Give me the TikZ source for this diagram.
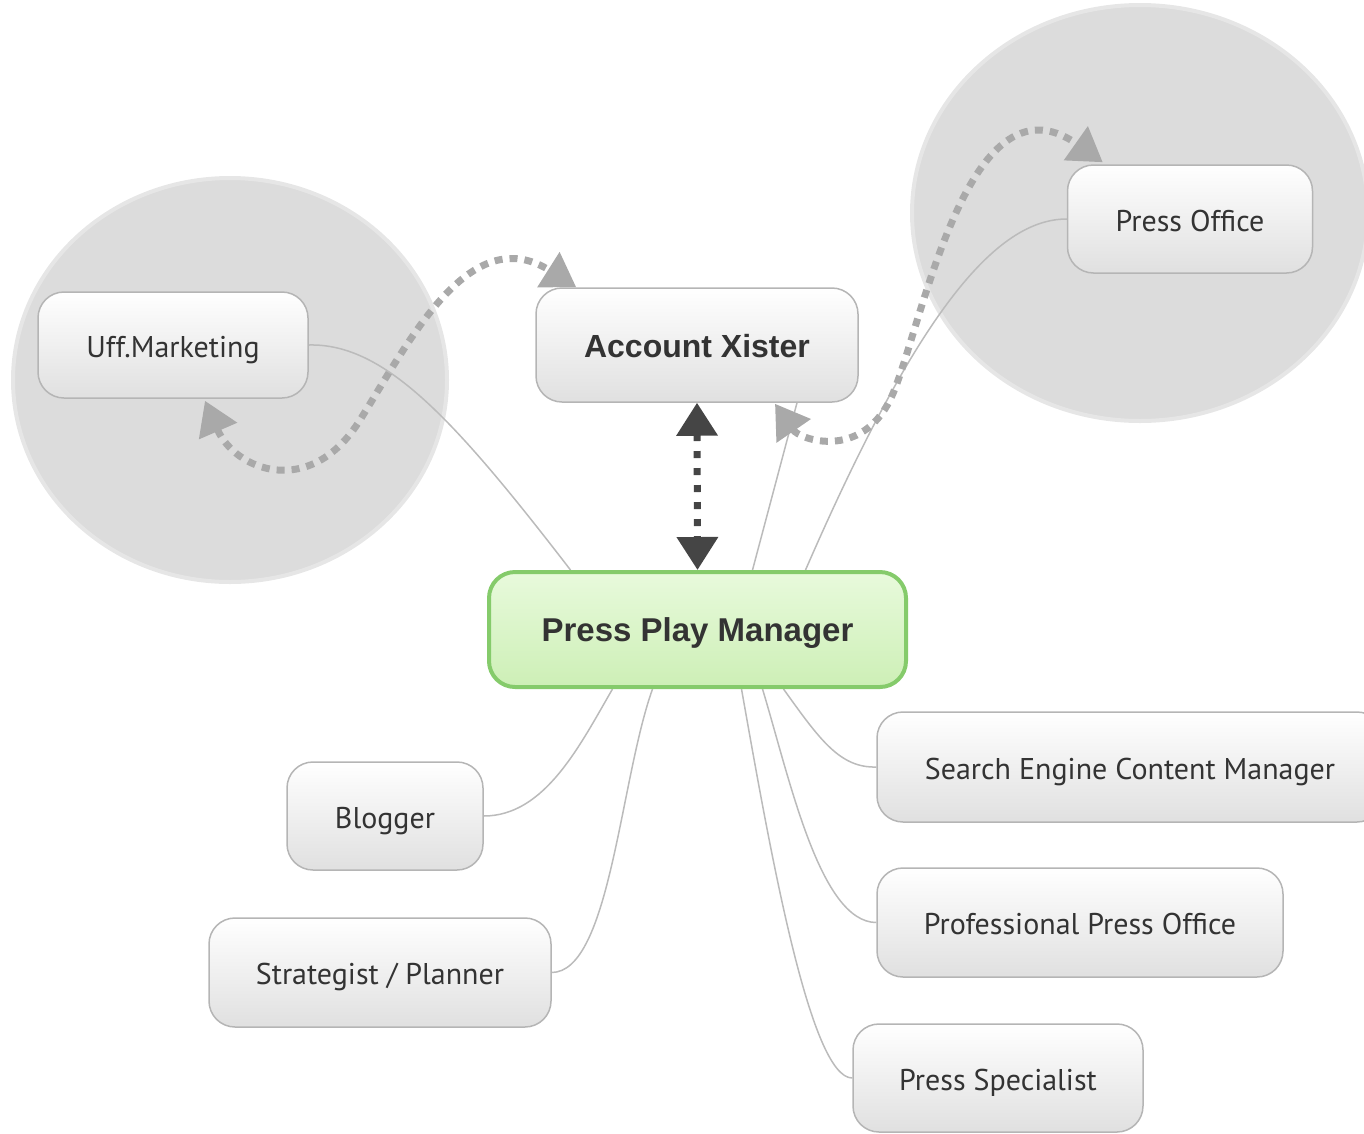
\documentclass[tikz,border=0pt]{standalone}
\usepackage{fontspec}
\setmainfont{PT Sans}
\newfontfamily\arialf{Liberation Sans}
\usetikzlibrary{arrows.meta,calc}
\pgfdeclarelayer{circ}
\pgfdeclarelayer{lines}
\pgfsetlayers{circ,lines,main}
\definecolor{circfill}{HTML}{DCDCDC}
\definecolor{circline}{HTML}{E6E6E6}
\definecolor{boxline}{HTML}{B5B5B5}
\definecolor{boxbot}{HTML}{E0E0E0}
\definecolor{conn}{HTML}{BBBBBB}
\definecolor{txt}{HTML}{333333}
\definecolor{dotg}{HTML}{A9A9A9}
\definecolor{dotd}{HTML}{454545}
\definecolor{gtop}{HTML}{E8FADC}
\definecolor{gbot}{HTML}{CDEFB6}
\definecolor{gline}{HTML}{85CB6B}
\begin{document}
\begin{tikzpicture}[x=1pt,y=-1pt,
  box/.style={rounded corners=26pt, draw=boxline, line width=1.5pt,
    top color=white, bottom color=boxbot, text=txt,
    font=\fontsize{30}{36}\selectfont, inner sep=0pt,
    text height=28pt, text depth=4pt},
  boldbox/.style={box, font=\arialf\bfseries\fontsize{32}{38}\selectfont},
  mainbox/.style={rounded corners=26pt, draw=gline, line width=4pt,
    top color=gtop, bottom color=gbot, text=txt, inner sep=0pt,
    text height=28pt, text depth=4pt,
    font=\arialf\bfseries\fontsize{33}{40}\selectfont},
  conline/.style={draw=conn, line width=1.5pt},
  dotgray/.style={draw=dotg, line width=7pt, dash pattern=on 8pt off 7pt,
    arrows={Triangle[length=33pt,width=40pt]-Triangle[length=33pt,width=40pt]}},
  dotdark/.style={draw=dotd, line width=7pt, dash pattern=on 7pt off 10pt,
    arrows={Triangle[length=33pt,width=40pt]-Triangle[length=33pt,width=40pt]}},
  bubble/.style={fill=circfill, draw=circline, line width=4pt}
]
\useasboundingbox (0,0) rectangle (1364,1133);

% bubbles
\begin{pgfonlayer}{circ}
  \path[bubble] (230,380) ellipse [x radius=217, y radius=202];
  \path[bubble] (1140,213) ellipse [x radius=228, y radius=208];
\end{pgfonlayer}

% nodes
\node[box, minimum width=270pt, minimum height=106pt] (um) at (173,345) {Uff.Marketing};
\node[boldbox, minimum width=322pt, minimum height=114pt] (ax) at (697,345) {Account Xister};
\node[box, minimum width=245pt, minimum height=108pt] (po) at (1190,219) {Press Office};
\node[mainbox, minimum width=417pt, minimum height=115pt] (ppm) at (697.5,629.5) {Press Play Manager};
\node[box, minimum width=196pt, minimum height=108pt] (bl) at (385,816) {Blogger};
\node[box, minimum width=342pt, minimum height=109pt] (sp) at (380,972.5) {Strategist / Planner};
\node[box, minimum width=506pt, minimum height=110pt] (se) at (1130,767) {Search Engine Content Manager};
\node[box, minimum width=406pt, minimum height=109pt] (pp) at (1080,922.5) {Professional Press Office};
\node[box, minimum width=290pt, minimum height=108pt] (ps) at (998,1078) {Press Specialist};

% connectors
\begin{pgfonlayer}{lines}
  \draw[conline] (um.east) .. controls (385,343) and (455,420) .. ($(ppm.north)+(-127,0)$);
  \draw[conline] ($(ppm.north)+(55,0)$) -- ($(ax.south)+(100,0)$);
  \draw[conline] (po.west) .. controls (990,219) and (910,330) .. ($(ppm.north)+(108,0)$);
  \draw[conline] ($(ppm.south)+(-85,0)$) .. controls (580,745) and (545,816) .. (bl.east);
  \draw[conline] ($(ppm.south)+(-45,0)$) .. controls (620,780) and (610,972) .. (sp.east);
  \draw[conline] ($(ppm.south)+(86,0)$) .. controls (820,740) and (840,768) .. (se.west);
  \draw[conline] ($(ppm.south)+(65,0)$) .. controls (790,780) and (820,922) .. (pp.west);
  \draw[conline] ($(ppm.south)+(44,0)$) .. controls (770,850) and (810,1078) .. (ps.west);
\end{pgfonlayer}

% dotted relation arrows
\draw[dotgray] ($(um.south)+(32,2)$) .. controls (235,470) and (310,500) .. (360,420)
   .. controls (410,340) and (470,220) .. ($(ax.north west)+(41,0)$);
\draw[dotgray] ($(ax.south)+(78,1)$) .. controls (800,440) and (860,460) .. (890,400)
   .. controls (920,340) and (965,65) .. ($(po.north west)+(36,-2)$);
\draw[dotdark] (ax.south) -- (ppm.north);
\end{tikzpicture}
\end{document}
